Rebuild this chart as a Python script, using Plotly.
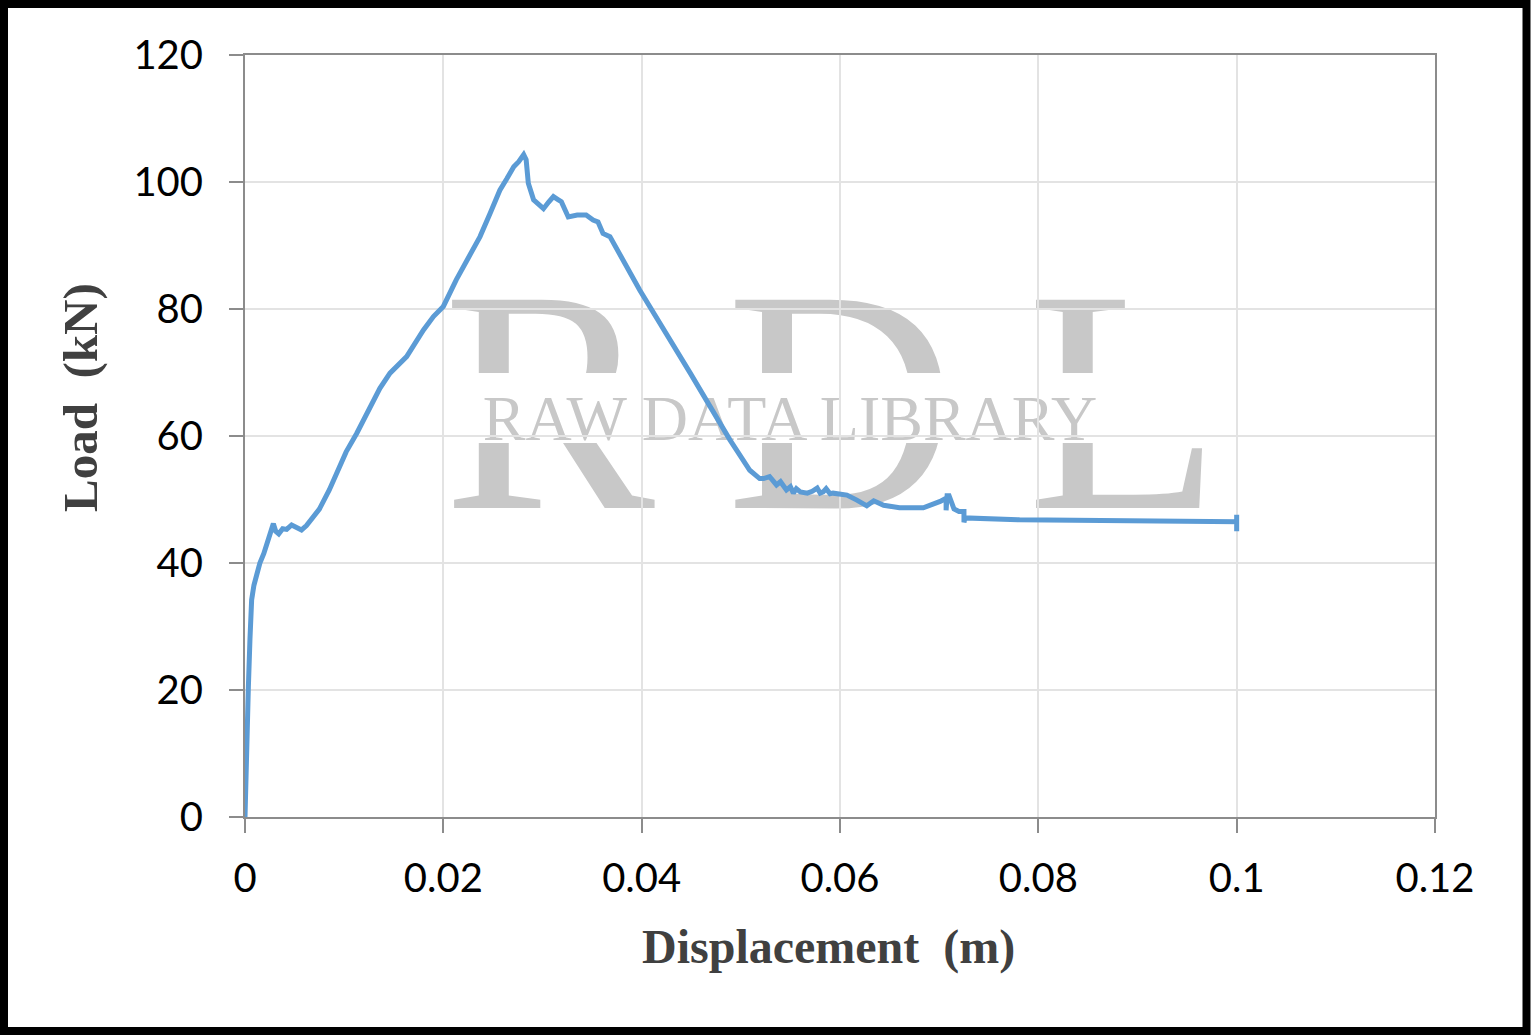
import plotly.graph_objects as go

# Displacement (m) and Load (kN)
displacement = [
    0.0, 0.0001, 0.0002, 0.00034, 0.0005, 0.00067, 0.0009, 0.00118, 0.0015, 0.0019,
    0.0024, 0.00286, 0.0031, 0.0034, 0.0038, 0.0042, 0.0047, 0.0052, 0.0057, 0.0062,
    0.0066, 0.0075, 0.0085, 0.00924, 0.0102, 0.01126, 0.0125, 0.0136, 0.01462, 0.0163,
    0.018, 0.019, 0.02, 0.0213, 0.0225, 0.0237, 0.0247, 0.0257, 0.0264, 0.0271,
    0.0276, 0.0281, 0.02835, 0.02857, 0.0291, 0.0296, 0.0301, 0.0306, 0.0311, 0.0316,
    0.0319, 0.0326, 0.0335, 0.0344, 0.0351, 0.0356, 0.0361, 0.0368, 0.0398, 0.0449,
    0.0489, 0.0509, 0.0519, 0.0523, 0.0529, 0.0536, 0.054, 0.0546, 0.055, 0.0553,
    0.0556, 0.056, 0.0567, 0.0572, 0.0577, 0.058, 0.0583, 0.0586, 0.059, 0.0593,
    0.06, 0.0607, 0.0617, 0.0627, 0.0634, 0.0644, 0.066, 0.0684, 0.0701, 0.0707,
    0.0707, 0.0708, 0.071, 0.0715, 0.072, 0.0725, 0.0725, 0.0726, 0.0781, 0.09,
    0.1, 0.1, 0.1,
]
load = [
    0.0, 8.0, 15.0, 20.5, 28.0, 34.2, 36.5, 38.4, 40.0, 41.5,
    44.0, 46.2, 45.0, 44.6, 45.4, 45.3, 46.0, 45.6, 45.2, 45.9,
    46.8, 48.5, 51.5, 54.1, 57.5, 60.4, 64.0, 67.5, 69.9, 72.5,
    76.7, 78.8, 80.4, 84.6, 88.0, 91.4, 95.0, 98.7, 100.5, 102.4,
    103.2, 104.3, 103.5, 99.8, 97.2, 96.6, 95.8, 96.8, 97.7, 97.2,
    96.9, 94.5, 94.8, 94.8, 94.0, 93.7, 91.9, 91.4, 83.0, 69.9,
    59.4, 54.6, 53.3, 53.3, 53.6, 52.3, 52.8, 51.5, 52.0, 51.0,
    51.7, 51.2, 51.0, 51.3, 51.8, 51.0, 51.2, 51.7, 50.9, 51.0,
    50.9, 50.7, 49.9, 49.0, 49.8, 49.1, 48.7, 48.7, 49.7, 50.2,
    48.3, 50.6, 50.6, 48.5, 48.1, 48.1, 46.4, 47.1, 46.8, 46.6,
    46.5, 47.6, 45.0,
]

x_ticks = [0, 0.02, 0.04, 0.06, 0.08, 0.1, 0.12]
x_tick_labels = ["0", "0.02", "0.04", "0.06", "0.08", "0.1", "0.12"]
y_ticks = [0, 20, 40, 60, 80, 100, 120]
y_tick_labels = ["0", "20", "40", "60", "80", "100", "120"]

W, H = 1531, 1035
L, R, T, B = 245, 96, 55, 218
PW, PH = W - L - R, H - T - B


def px(xp):
    return (xp - L) / PW


def py(yp):
    return (H - B - yp) / PH


fig = go.Figure()
fig.add_trace(go.Scatter(
    x=displacement, y=load, mode="lines",
    line=dict(color="#5B9BD5", width=5),
    showlegend=False, hoverinfo="skip",
))

axis_common = dict(
    showline=True, linecolor="#8c8c8c", linewidth=2, mirror=True,
    showgrid=True, gridcolor="#e3e3e3", gridwidth=1.5,
    ticks="outside", ticklen=14, tickwidth=2, tickcolor="#8c8c8c",
    zeroline=False,
    tickfont=dict(family="Lato", size=40, color="#000000"),
)

fig.update_xaxes(range=[0, 0.12], tickvals=x_ticks, ticktext=x_tick_labels,
                 ticklabelstandoff=11, **axis_common)
fig.update_yaxes(range=[0, 120], tickvals=y_ticks, ticktext=y_tick_labels,
                 ticklabelstandoff=18, **axis_common)

shapes = []
# Watermark letters (below gridlines)
wm_font = "Liberation Serif"
for letter, x0, x1 in [("R", 434, 664), ("D", 726, 956), ("L", 1022, 1226)]:
    shapes.append(dict(
        type="rect", xref="paper", yref="paper",
        x0=px(x0), x1=px(x1), y0=py(506), y1=py(226),
        line=dict(width=0), fillcolor="rgba(0,0,0,0)", layer="below",
        label=dict(text=letter, textposition="middle center",
                   font=dict(family=wm_font, size=318, color="#c8c8c8")),
    ))
# white band knocked out of the big letters behind the small text
shapes.append(dict(
    type="rect", xref="paper", yref="paper",
    x0=px(430), x1=px(1235), y0=py(443), y1=py(373),
    line=dict(width=0), fillcolor="#ffffff", layer="below",
))
shapes.append(dict(
    type="rect", xref="paper", yref="paper",
    x0=px(470), x1=px(1110), y0=py(451), y1=py(371),
    line=dict(width=0), fillcolor="rgba(0,0,0,0)", layer="below",
    label=dict(text="RAW DATA LIBRARY", textposition="middle center",
               font=dict(family=wm_font, size=64, color="#c8c8c8")),
))
# Outer black frame
shapes.append(dict(
    type="rect", xref="paper", yref="paper",
    x0=px(4), x1=px(1526.5), y0=py(1031), y1=py(4),
    line=dict(color="#000000", width=8), fillcolor="rgba(0,0,0,0)", layer="above",
))

annotations = [
    dict(text="Displacement  (m)", xref="paper", yref="paper",
         x=px(828), y=py(947), showarrow=False, xanchor="center", yanchor="middle",
         font=dict(family="Liberation Serif", size=48, color="#404040"),
         ),
    dict(text="Load  (kN)", xref="paper", yref="paper",
         x=px(80), y=py(398), showarrow=False, xanchor="center", yanchor="middle",
         textangle=-90,
         font=dict(family="Liberation Serif", size=49, color="#404040"),
         ),
]
for a in annotations:
    a["text"] = "<b>" + a["text"].replace("  ", "&nbsp; ") + "</b>"

fig.update_layout(
    width=W, height=H,
    margin=dict(l=L, r=R, t=T, b=B, pad=0),
    paper_bgcolor="#ffffff", plot_bgcolor="#ffffff",
    shapes=shapes, annotations=annotations,
)

fig.write_html(
    "out.html",
    config={"displayModeBar": False},
    post_script="document.body.style.margin='0';document.body.style.overflow='hidden';",
)
